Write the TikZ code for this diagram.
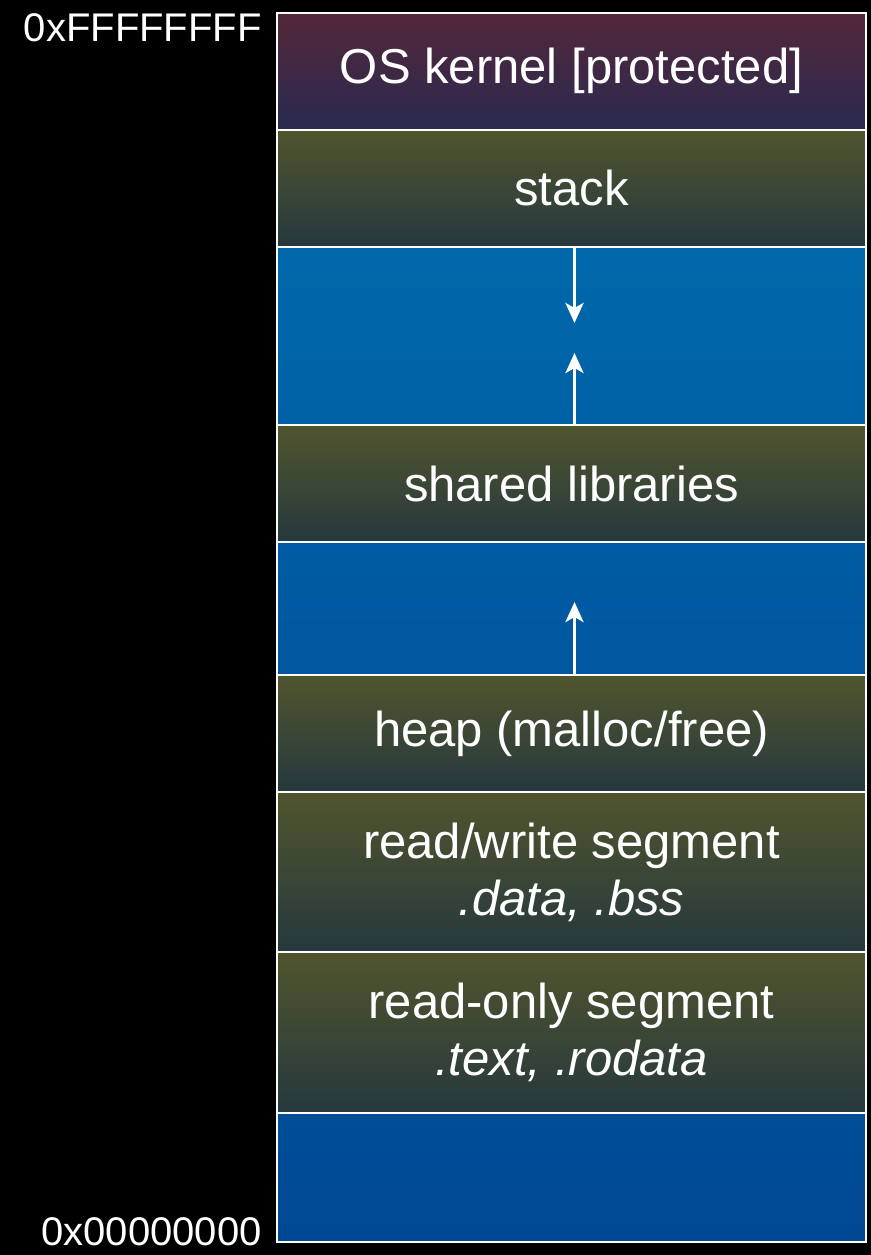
\documentclass[tikz,border=0pt]{standalone}
\usepackage{fontspec}
\setmainfont{Liberation Sans}
\usetikzlibrary{arrows.meta}
\definecolor{kerneltop}{RGB}{84,39,56}
\definecolor{kernelbot}{RGB}{41,42,82}
\definecolor{olivetop}{RGB}{80,85,45}
\definecolor{olivebot}{RGB}{38,56,62}
\definecolor{blueA}{RGB}{0,104,170}
\definecolor{blueB}{RGB}{0,97,166}
\definecolor{blueC}{RGB}{0,92,164}
\definecolor{blueD}{RGB}{0,86,159}
\definecolor{blueE}{RGB}{0,77,152}
\definecolor{blueF}{RGB}{0,72,148}
\begin{document}
\begin{tikzpicture}[x=0.5pt,y=-0.5pt,
  seg/.style={draw=white,line width=1pt,minimum width=294.5pt,inner sep=0pt,outer sep=0pt,
    anchor=north,text=white,align=center,font=\fontsize{24.5}{28.5}\selectfont},
  olive/.style={seg,top color=olivetop,bottom color=olivebot},
  addr/.style={text=white,inner sep=0pt,font=\fontsize{20}{24}\selectfont},
  growarrow/.style={draw=white,line width=1.75pt,-{Stealth[length=10pt,width=9pt,inset=2.5pt]}}]
\fill[black] (0,0) rectangle (871,1255);
\useasboundingbox (0,0) rectangle (871,1255);
% address space, top to bottom
\node[seg,minimum height=58.25pt,top color=kerneltop,bottom color=kernelbot] (kernel) at (571.5,13) {OS kernel [protected]};
\node[olive,minimum height=58.75pt] (stack) at (571.5,129.5) {stack};
\node[seg,minimum height=89pt,top color=blueA,bottom color=blueB] (gapA) at (571.5,247) {};
\node[olive,minimum height=58.5pt] (shlib) at (571.5,425) {shared libraries};
\node[seg,minimum height=66.5pt,top color=blueC,bottom color=blueD] (gapB) at (571.5,542) {};
\node[olive,minimum height=58.5pt] (heap) at (571.5,675) {heap (malloc/free)};
\node[olive,minimum height=80pt] (rwseg) at (571.5,792) {read/write segment\\\itshape .data, .bss};
\node[olive,minimum height=80.5pt] (roseg) at (571.5,952) {read-only segment\\\itshape .text, .rodata};
\node[seg,minimum height=64.5pt,top color=blueE,bottom color=blueF] (gapC) at (571.5,1113) {};
% addresses
\node[addr,anchor=north east] (hiaddr) at (262,13) {0xFFFFFFFF};
\node[addr,anchor=base east] (loaddr) at (262,1245) {0x00000000};
% growth arrows
\coordinate (stackend) at (574.5,323);
\coordinate (shlibend) at (574.5,353);
\coordinate (heapend) at (574.5,602);
\draw[growarrow] (stackend |- stack.south) -- (stackend);
\draw[growarrow] (shlibend |- shlib.north) -- (shlibend);
\draw[growarrow] (heapend |- heap.north) -- (heapend);
\end{tikzpicture}
\end{document}
